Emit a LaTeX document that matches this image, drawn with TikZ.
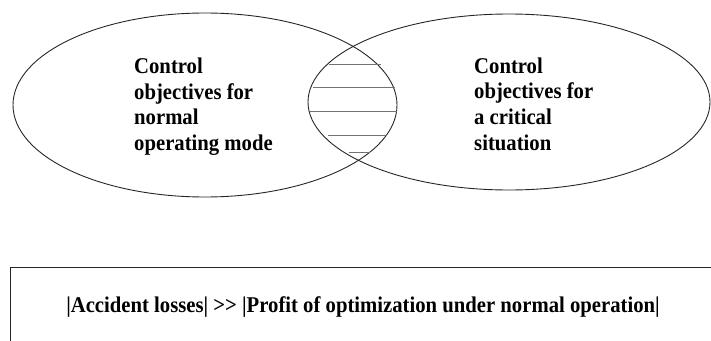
\documentclass[tikz,border=0pt]{standalone}
\usepackage{fontspec}
\setmainfont{Liberation Serif}[FakeStretch=0.92]
\usetikzlibrary{shapes.geometric}
\begin{document}
\begin{tikzpicture}[x=1pt,y=-1pt,
  set/.style={ellipse, draw=black!85, line width=0.9pt, inner sep=0pt, outer sep=0pt},
  label/.style={font=\bfseries\fontsize{22.5}{25.7}\selectfont, align=left, anchor=base west, inner sep=0pt},
  hatch/.style={draw=black!55, line width=0.8pt}]
\useasboundingbox (0,0) rectangle (711,340);
\clip (0,0) rectangle (711,340);
% the two overlapping sets
\node[set, minimum width=384pt, minimum height=184pt] (normal) at (205,105) {};
\node[set, minimum width=402pt, minimum height=176pt] (critical) at (509,102) {};
% hatching of the common part
\coordinate (h1a) at (329,64);  \coordinate (h1b) at (381,64);
\coordinate (h2a) at (313,87);  \coordinate (h2b) at (395,87);
\coordinate (h3a) at (310,111); \coordinate (h3b) at (397,111);
\coordinate (h4a) at (328,135); \coordinate (h4b) at (387,135);
\coordinate (h5a) at (349,152); \coordinate (h5b) at (370,152);
\foreach \i in {1,...,5} \draw[hatch] (h\i a) -- (h\i b);
% texts of the sets (anchored on the baseline of the last line)
\node[label] (tnormal) at (134,150.6) {Control\\objectives for\\normal\\operating mode};
\node[label] (tcritical) at (474,150.1) {Control\\objectives for\\a critical\\situation};
% comparison box
\node[draw=black!85, line width=0.9pt, minimum width=720pt, minimum height=100pt, anchor=north west, inner sep=0pt] (box) at (10,267) {};
\node[font=\bfseries\fontsize{22.5}{25}\selectfont, inner sep=0pt, anchor=base] (cmp) at (363,312)
  {|Accident losses| >\kern0pt> |Profit of optimization under normal operation|};
\end{tikzpicture}
\end{document}
